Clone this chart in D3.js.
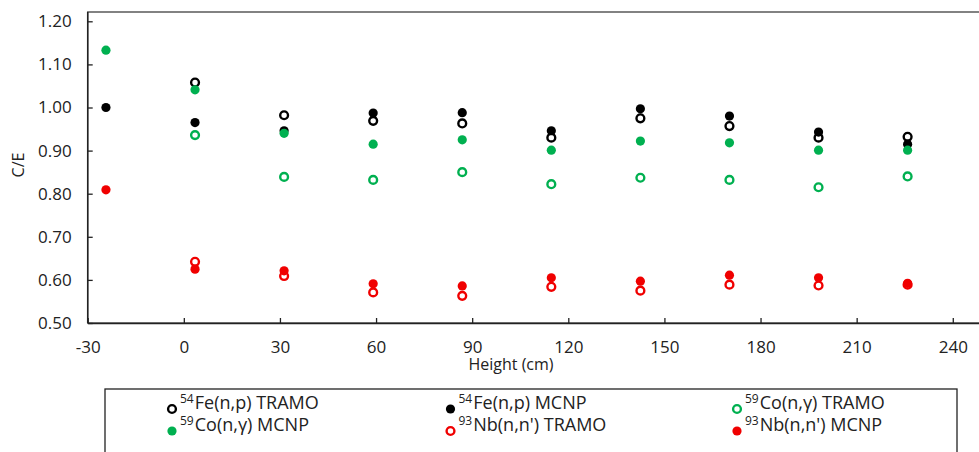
<!DOCTYPE html>
<html lang="en">
<head>
    <meta charset="UTF-8">
    <title>C/E vs Height</title>
    <script src="https://d3js.org/d3.v7.min.js"></script>
    <style>
        body { margin: 0; background: #fff; }
        svg { display: block; font-family: "Open Sans", sans-serif; }
    </style>
</head>
<body>
<div id="chart"></div>
<script>
    // heights (cm); TRAMO series start at the second height
    const heights = [-24.3, 3.5, 31.3, 59.1, 86.9, 114.7, 142.5, 170.3, 198.1, 225.9];
    const tramoHeights = heights.slice(1);

    const feTramo = [1.058, 0.982, 0.969, 0.963, 0.930, 0.975, 0.957, 0.930, 0.932];
    const feMcnp  = [1.000, 0.965, 0.946, 0.987, 0.988, 0.946, 0.997, 0.980, 0.943, 0.915];
    const coTramo = [0.936, 0.839, 0.832, 0.850, 0.822, 0.837, 0.832, 0.815, 0.840];
    const coMcnp  = [1.133, 1.041, 0.940, 0.915, 0.925, 0.901, 0.922, 0.918, 0.901, 0.901];
    const nbTramo = [0.642, 0.609, 0.571, 0.563, 0.584, 0.575, 0.589, 0.587, 0.589];
    const nbMcnp  = [0.809, 0.625, 0.621, 0.591, 0.586, 0.605, 0.597, 0.611, 0.605, 0.592];

    const xTicks = [-30, 0, 30, 60, 90, 120, 150, 180, 210, 240];
    const yTicks = [0.5, 0.6, 0.7, 0.8, 0.9, 1.0, 1.1, 1.2];

    const series = [
        { name: ["54", "Fe(n,p) TRAMO"], xs: tramoHeights, ys: feTramo, color: "#000000", open: true },
        { name: ["54", "Fe(n,p) MCNP"],  xs: heights,      ys: feMcnp,  color: "#000000", open: false },
        { name: ["59", "Co(n,γ) TRAMO"], xs: tramoHeights, ys: coTramo, color: "#00b050", open: true },
        { name: ["59", "Co(n,γ) MCNP"],  xs: heights,      ys: coMcnp,  color: "#00b050", open: false },
        { name: ["93", "Nb(n,n') TRAMO"], xs: tramoHeights, ys: nbTramo, color: "#f00000", open: true },
        { name: ["93", "Nb(n,n') MCNP"],  xs: heights,      ys: nbMcnp,  color: "#f00000", open: false }
    ];

    const width = 979, height = 452;
    const plotLeft = 87.7, plotTop = 12, plotBottom = 323;

    const x = d3.scaleLinear().domain([-30, 270]).range([plotLeft, plotLeft + 300 * 3.204]);
    const y = d3.scaleLinear().domain([0.5, 1.2]).range([plotBottom, 21.3]);

    const svg = d3.select("#chart").append("svg")
        .attr("width", width)
        .attr("height", height);

    // plot frame
    svg.append("rect")
        .attr("x", plotLeft).attr("y", plotTop)
        .attr("width", width + 20 - plotLeft).attr("height", plotBottom - plotTop)
        .attr("fill", "none").attr("stroke", "#404040").attr("stroke-width", 1.3);

    const xAxis = svg.append("g")
        .attr("transform", `translate(0,${plotBottom})`)
        .call(d3.axisBottom(x).tickValues(xTicks).tickSize(-5).tickPadding(18).tickSizeOuter(0)
            .tickFormat(d => String(d)));
    xAxis.select(".domain").attr("stroke", "#222").attr("stroke-width", 1.5);
    xAxis.selectAll(".tick line").attr("stroke", "#222").attr("stroke-width", 1.3);
    xAxis.selectAll("text").attr("font-size", 17).attr("fill", "#222").attr("font-family", "Open Sans");

    const yAxis = svg.append("g")
        .attr("transform", `translate(${plotLeft},0)`)
        .call(d3.axisLeft(y).tickValues(yTicks).tickSize(-5).tickPadding(16).tickSizeOuter(0)
            .tickFormat(d3.format(".2f")));
    yAxis.select(".domain").remove();
    yAxis.selectAll(".tick line").attr("stroke", "#222").attr("stroke-width", 1.3);
    yAxis.selectAll("text").attr("font-size", 17).attr("fill", "#222").attr("font-family", "Open Sans");

    svg.append("line")
        .attr("x1", plotLeft).attr("x2", plotLeft).attr("y1", plotTop).attr("y2", plotBottom)
        .attr("stroke", "#222").attr("stroke-width", 1.5);

    // axis titles
    svg.append("text")
        .attr("x", 511).attr("y", 370)
        .attr("text-anchor", "middle")
        .attr("font-size", 16).attr("fill", "#222")
        .text("Height (cm)");

    svg.append("text")
        .attr("transform", "translate(24,165) rotate(-90)")
        .attr("text-anchor", "middle")
        .attr("font-size", 16).attr("fill", "#222")
        .text("C/E");

    function drawMarker(sel, s) {
        if (s.open) {
            sel.attr("r", 3.9).attr("fill", "#fff")
                .attr("stroke", s.color).attr("stroke-width", 2.4);
        } else {
            sel.attr("r", 4.6).attr("fill", s.color).attr("stroke", "none");
        }
    }

    series.forEach(s => {
        const pts = s.ys.map((v, i) => ({ h: s.xs[i], v: v }));
        svg.append("g").selectAll("circle")
            .data(pts)
            .enter().append("circle")
            .attr("cx", d => x(d.h))
            .attr("cy", d => y(d.v))
            .call(drawMarker, s);
    });

    // legend
    svg.append("rect")
        .attr("x", 105).attr("y", 389)
        .attr("width", 852).attr("height", 80)
        .attr("fill", "#fff").attr("stroke", "#222").attr("stroke-width", 1.3);

    const colX = [172, 450.5, 737];
    const rowY = [409, 431];
    const item = svg.append("g").selectAll("g")
        .data(series)
        .enter().append("g")
        .attr("transform", (d, i) => `translate(${colX[i % 3]},${rowY[Math.floor(i / 3)]})`);

    item.append("circle").each(function (d) { d3.select(this).call(drawMarker, d); });

    const label = item.append("text")
        .attr("x", 8).attr("dy", "0.36em")
        .attr("font-size", 18).attr("fill", "#222");
    label.append("tspan").attr("font-size", 12).attr("dy", "-0.5em").text(d => d.name[0]);
    label.append("tspan").attr("dy", "0.33em").attr("dx", 1).text(d => d.name[1]);
</script>
</body>
</html>
